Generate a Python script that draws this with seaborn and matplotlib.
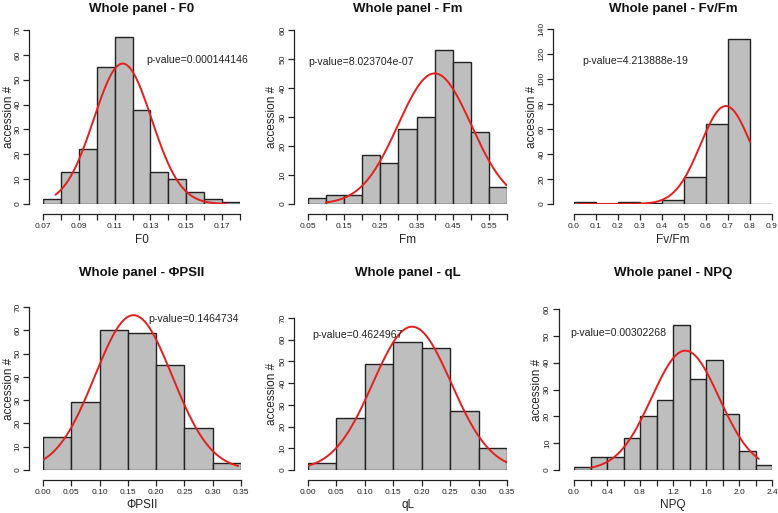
import numpy as np
import pandas as pd
import matplotlib
matplotlib.use("Agg")
import matplotlib.pyplot as plt
import seaborn as sns

sns.set_style("white")
plt.rcParams['font.family'] = ['Liberation Sans', 'DejaVu Sans']

# ---------------- data ----------------
titles = ["Whole panel - F0", "Whole panel - Fm", "Whole panel - Fv/Fm",
          "Whole panel - \u03a6PSII", "Whole panel - qL", "Whole panel - NPQ"]
xlabels = ["F0", "Fm", "Fv/Fm", "\u03a6PSII", "qL", "NPQ"]
pvalues = ["p-value=0.000144146", "p-value=8.023704e-07", "p-value=4.213888e-19",
           "p-value=0.1464734", "p-value=0.4624967", "p-value=0.00302268"]

f0_edges = [0.07, 0.08, 0.09, 0.10, 0.11, 0.12, 0.13, 0.14, 0.15, 0.16, 0.17, 0.18]
f0_counts = [2, 13, 22, 55, 67, 38, 13, 10, 5, 2, 1]

fm_edges = [0.05, 0.10, 0.15, 0.20, 0.25, 0.30, 0.35, 0.40, 0.45, 0.50, 0.55, 0.60]
fm_counts = [2, 3, 3, 17, 14, 26, 30, 53, 49, 25, 6]

fvfm_edges = [0.0, 0.1, 0.2, 0.3, 0.4, 0.5, 0.6, 0.7, 0.8, 0.9]
fvfm_counts = [2, 0, 2, 1, 3, 22, 64, 132, 0]

psii_edges = [0.00, 0.05, 0.10, 0.15, 0.20, 0.25, 0.30, 0.35]
psii_counts = [14, 29, 60, 59, 45, 18, 3]

ql_edges = [0.00, 0.05, 0.10, 0.15, 0.20, 0.25, 0.30, 0.35]
ql_counts = [3, 24, 49, 59, 56, 27, 10]

npq_edges = [0.0, 0.2, 0.4, 0.6, 0.8, 1.0, 1.2, 1.4, 1.6, 1.8, 2.0, 2.2, 2.4]
npq_counts = [1, 5, 5, 12, 20, 26, 54, 34, 41, 21, 7, 2]

# fitted normal curves: mean, sd, x range drawn
fit_mean = [0.1145, 0.400, 0.690, 0.160, 0.183, 1.35]
fit_sd = [0.0161, 0.101, 0.115, 0.0684, 0.0689, 0.409]
fit_from = [0.077, 0.10, 0.02, 0.0, 0.0, 0.2]
fit_to = [0.172, 0.60, 0.80, 0.345, 0.35, 2.24]

# axis ticks
x_ticks = [np.round(np.arange(0.07, 0.1801, 0.01), 2), np.round(np.arange(0.05, 0.6001, 0.05), 2),
           np.round(np.arange(0.0, 0.9001, 0.1), 1), np.round(np.arange(0.0, 0.3501, 0.05), 2),
           np.round(np.arange(0.0, 0.3501, 0.05), 2), np.round(np.arange(0.0, 2.4001, 0.2), 1)]
x_ticklabels = [
    ["0.07", "", "0.09", "", "0.11", "", "0.13", "", "0.15", "", "0.17", ""],
    ["0.05", "", "0.15", "", "0.25", "", "0.35", "", "0.45", "", "0.55", ""],
    ["0.0", "0.1", "0.2", "0.3", "0.4", "0.5", "0.6", "0.7", "0.8", "0.9"],
    ["0.00", "0.05", "0.10", "0.15", "0.20", "0.25", "0.30", "0.35"],
    ["0.00", "0.05", "0.10", "0.15", "0.20", "0.25", "0.30", "0.35"],
    ["0.0", "", "0.4", "", "0.8", "", "1.2", "", "1.6", "", "2.0", "", "2.4"],
]
y_max = [70, 60, 140, 70, 70, 60]
y_step = [10, 10, 20, 10, 10, 10]

edges_all = [f0_edges, fm_edges, fvfm_edges, psii_edges, ql_edges, npq_edges]
counts_all = [f0_counts, fm_counts, fvfm_counts, psii_counts, ql_counts, npq_counts]

# ---------------- layout (pixels) ----------------
W, H = 778, 513
boxes = [(43, 240, 204, 30), (308, 507, 204, 30), (574, 772, 204, 29),
         (43, 241, 470, 307), (308, 507, 470, 318), (574, 772, 470, 309)]
yaxis_x = [33, 298, 559, 33, 298, 563]
ylab_x = [9, 272, 532, 9, 272, 537]
title_y = [9, 9, 9, 273, 273, 273]
xlab_y = [240, 240, 240, 505, 505, 505]
pv_pos = [(0.1275, 58), (0.05, 49), (0.036, 114), (0.1856, 65), (0.007, 62), (-0.05, 51)]

fig = plt.figure(figsize=(W / 100, H / 100), dpi=100)
fig.patch.set_facecolor("white")

for i in range(6):
    l, r, b, t = boxes[i]
    ax = fig.add_axes([l / W, 1 - b / H, (r - l) / W, (b - t) / H])
    # spine placement first (it resets ticks)
    for s in ["top", "right"]:
        ax.spines[s].set_visible(False)
    ax.spines["left"].set_position(("outward", l - yaxis_x[i]))
    ax.spines["bottom"].set_position(("outward", 7))
    for s in ["left", "bottom"]:
        ax.spines[s].set_color("#222222")
        ax.spines[s].set_linewidth(0.9)

    edges = [float(e) for e in edges_all[i]]
    counts = [float(c) for c in counts_all[i]]
    centers = [(edges[k] + edges[k + 1]) / 2 for k in range(len(counts))]
    df = pd.DataFrame({"v": centers, "w": counts})
    sns.histplot(data=df, x="v", weights="w", bins=edges, ax=ax, color="#BEBEBE",
                 edgecolor="#222222", linewidth=1.0, alpha=1, stat="count")
    bw = edges[1] - edges[0]
    n = sum(counts)
    xs = np.linspace(fit_from[i], fit_to[i], 200)
    ys = n * bw * np.exp(-0.5 * ((xs - fit_mean[i]) / fit_sd[i]) ** 2) / (fit_sd[i] * np.sqrt(2 * np.pi))
    sns.lineplot(x=xs, y=ys, ax=ax, color="#E3201E", linewidth=1.4)

    ax.set_xlim(edges[0], edges[-1])
    ax.set_ylim(0, y_max[i])
    ax.tick_params(axis="both", direction="out", length=4, width=0.9, color="#222222",
                   pad=2.5, bottom=True, left=True, labelsize=6, labelcolor="#222222")
    ax.tick_params(axis="y", pad=1.5)
    ax.set_xticks(x_ticks[i])
    ax.set_xticklabels(x_ticklabels[i])
    yt = np.arange(0, y_max[i] + 1, y_step[i])
    ax.set_yticks(yt)
    ax.set_yticklabels([str(v) for v in yt], rotation=90, rotation_mode="anchor",
                       ha="center", va="bottom")
    ax.set_xlabel("")
    ax.set_ylabel("")
    ax.grid(False)
    ax.text(pv_pos[i][0], pv_pos[i][1], pvalues[i], fontsize=7.6, color="#222222",
            ha="left", va="center", clip_on=False)

    cx = (l + r) / 2
    fig.text(cx / W, 1 - title_y[i] / H, titles[i], fontsize=9.5, fontweight="bold",
             ha="center", va="center", color="#111111")
    fig.text(cx / W, 1 - xlab_y[i] / H, xlabels[i], fontsize=8.5, ha="center", va="center",
             color="#222222")
    fig.text(ylab_x[i] / W, 1 - ((b + t) / 2) / H, "accession #", fontsize=8.5,
             rotation=90, ha="center", va="center", color="#222222")

fig.savefig("out.png", dpi=100, facecolor="white")
